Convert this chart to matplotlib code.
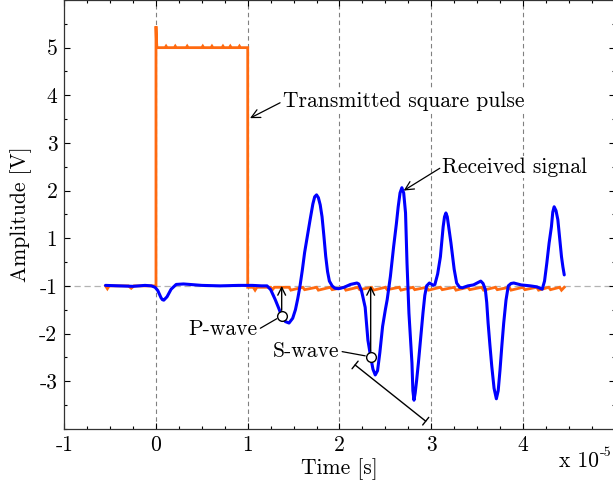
import matplotlib
matplotlib.use("Agg")
import matplotlib.pyplot as plt

plt.rcParams['font.family'] = 'serif'
plt.rcParams['font.serif'] = ['cmr10']
plt.rcParams['mathtext.fontset'] = 'cm'
plt.rcParams['axes.unicode_minus'] = False

# segnale trasmesso (impulso quadrato), x in unita di 1e-5 s
tx_x = [-0.55, -0.53, -0.51, -0.30, -0.27, -0.24, 0.0, 0.0, 0.004, 0.01,
        0.10, 0.11, 0.12, 0.20, 0.21, 0.22, 0.33, 0.34, 0.35, 0.50, 0.51, 0.52,
        0.60, 0.61, 0.62, 0.72, 0.73, 0.74, 0.80, 0.81, 0.82, 0.90, 0.91, 0.92, 0.99, 1.0,
        1.0, 1.06, 1.08, 1.10, 1.25, 1.27, 1.29, 1.45, 1.47, 1.60, 1.62, 1.75, 1.77,
        1.90, 1.92, 2.05, 2.07, 2.20, 2.22, 2.35, 2.37, 2.50, 2.52, 2.65, 2.67,
        2.80, 2.82, 2.95, 2.97, 3.10, 3.12, 3.25, 3.27, 3.40, 3.42, 3.55, 3.57,
        3.70, 3.72, 3.85, 3.87, 4.00, 4.02, 4.15, 4.17, 4.28, 4.30, 4.40, 4.42, 4.45]
tx_y = [0.0, -0.06, 0.0, 0.0, -0.05, 0.0, 0.0, 5.45, 5.2, 5.0,
        5.0, 5.03, 5.0, 5.0, 5.03, 5.0, 5.0, 5.03, 5.0, 5.0, 5.03, 5.0,
        5.0, 5.03, 5.0, 5.0, 5.03, 5.0, 5.0, 5.03, 5.0, 5.0, 5.03, 5.0, 5.0, 5.0,
        -0.03, -0.03, -0.09, -0.03, -0.03, -0.08, -0.03, -0.03, -0.09, -0.03, -0.08, -0.03, -0.09,
        -0.03, -0.08, -0.03, -0.09, -0.03, -0.08, -0.03, -0.09, -0.03, -0.08, -0.03, -0.09,
        -0.03, -0.08, -0.03, -0.09, -0.03, -0.08, -0.03, -0.09, -0.03, -0.08, -0.03, -0.09,
        -0.03, -0.08, -0.03, -0.09, -0.03, -0.08, -0.03, -0.09, -0.03, -0.08, -0.03, -0.09, -0.03]

# segnale ricevuto
rx_x = [-0.55, -0.40, -0.25, -0.12, -0.05, -0.01, 0.02, 0.055, 0.07, 0.085, 0.12, 0.165,
        0.22, 0.30, 0.50, 0.70, 0.90, 1.05, 1.15, 1.21, 1.25, 1.30, 1.34, 1.37,
        1.41, 1.45, 1.49, 1.52, 1.545, 1.57, 1.595, 1.62, 1.65, 1.68, 1.71, 1.73,
        1.75, 1.77, 1.79, 1.81, 1.83, 1.85, 1.87, 1.89, 1.92, 1.95, 1.99, 2.05,
        2.12, 2.19, 2.21, 2.24, 2.28, 2.31, 2.34, 2.365, 2.39, 2.415, 2.44, 2.47,
        2.50, 2.52, 2.555, 2.59, 2.62, 2.64, 2.66, 2.68, 2.70, 2.72, 2.736, 2.757,
        2.79, 2.80, 2.812, 2.825, 2.84, 2.86, 2.885, 2.91, 2.93, 2.95, 2.98, 3.00,
        3.02, 3.04, 3.07, 3.10, 3.13, 3.145, 3.16, 3.175, 3.19, 3.215, 3.233, 3.25,
        3.277, 3.31, 3.34, 3.40, 3.46, 3.51, 3.54, 3.565, 3.59, 3.605, 3.62, 3.64,
        3.66, 3.685, 3.71, 3.73, 3.75, 3.77, 3.79, 3.815, 3.84, 3.87, 3.90, 3.98,
        4.08, 4.15, 4.21, 4.235, 4.26, 4.285, 4.31, 4.325, 4.34, 4.36, 4.38, 4.40,
        4.42, 4.435, 4.45]
rx_y = [0.01, 0.0, -0.01, 0.01, 0.0, -0.03, -0.1, -0.25, -0.29, -0.30, -0.23, -0.07,
        0.03, 0.04, 0.01, 0.0, 0.01, 0.01, 0.0, 0.0, -0.08, -0.29, -0.48, -0.63,
        -0.75, -0.78, -0.68, -0.5, -0.27, 0.0, 0.33, 0.7, 1.05, 1.39, 1.72, 1.87,
        1.91, 1.85, 1.7, 1.45, 1.05, 0.62, 0.3, 0.1, 0.0, -0.05, -0.06, -0.03,
        0.03, 0.06, 0.04, -0.1, -0.45, -1.14, -1.49, -1.75, -1.87, -1.78, -1.4, -0.85,
        -0.5, -0.29, 0.2, 0.82, 1.3, 1.66, 1.95, 2.06, 1.95, 1.53, 0.48, -0.57,
        -1.62, -2.2, -2.40, -2.25, -2.0, -1.62, -1.1, -0.57, -0.2, 0.0, 0.06, 0.04,
        0.01, 0.03, 0.25, 0.61, 1.24, 1.45, 1.53, 1.45, 1.24, 0.9, 0.61, 0.35,
        0.06, -0.03, -0.04, 0.0, 0.02, 0.07, 0.1, 0.05, -0.08, -0.35, -0.78, -1.25,
        -1.69, -2.15, -2.37, -2.2, -1.76, -1.25, -0.78, -0.3, 0.0, 0.05, 0.06, 0.02,
        0.0, -0.02, -0.07, 0.1, 0.48, 0.9, 1.24, 1.55, 1.66, 1.58, 1.39, 1.0,
        0.61, 0.4, 0.23]

xticks = [-1, 0, 1, 2, 3, 4]
xticklabels = ['-1', '0', '1', '2', '3', '4']
yticks = [-2, -1, 0, 1, 2, 3, 4, 5]
yticklabels = ['-3', '-2', '-1', '1', '2', '3', '4', '5']

fig = plt.figure(figsize=(6.13, 4.86), dpi=100)
ax = fig.add_axes([0.1048, 0.1177, 0.898, 0.8823])

for xv in [0, 1, 2, 3, 4]:
    ax.axvline(xv, color='0.5', lw=0.8, ls=(0, (4, 3)), zorder=0)
ax.axhline(0, color='0.7', lw=0.9, ls=(0, (5, 3)), zorder=0)

ax.plot(tx_x, tx_y, color='#ff6a10', lw=2.0, zorder=2, solid_joinstyle='miter')
ax.plot(rx_x, rx_y, color='#0000ff', lw=2.2, zorder=3,
        solid_joinstyle='round', solid_capstyle='round')

ax.set_xlim(-1, 5)
ax.set_ylim(-3, 6)
ax.set_xticks(xticks)
ax.set_xticklabels(xticklabels)
ax.set_xticks([i * 0.25 for i in range(-4, 21)], minor=True)
ax.set_yticks(yticks)
ax.set_yticklabels(yticklabels)
ax.set_yticks([i * 0.5 for i in range(-6, 13)], minor=True)
ax.tick_params(which='both', direction='in', top=True, right=True, labelsize=15.5, width=0.8)
ax.tick_params(which='major', length=4, pad=5)
ax.tick_params(which='minor', length=2.5)
for s in ax.spines.values():
    s.set_linewidth(0.9)
    s.set_color('0.2')

ax.set_xlabel('Time [s]', fontsize=15.5, labelpad=2)
ax.set_ylabel('Amplitude [V]', fontsize=15.5, labelpad=5)
fig.text(0.977, 0.039, 'x 10', ha='right', va='baseline', fontsize=15.5)
fig.text(0.979, 0.062, '-5', ha='left', va='baseline', fontsize=10)

box = dict(facecolor='white', edgecolor='none', pad=1)
ax.annotate('Transmitted square pulse', xy=(1.025, 3.52), xytext=(1.38, 3.87),
            ha='left', va='center', fontsize=15.5, bbox=box,
            arrowprops=dict(arrowstyle='->', color='k', lw=0.9, shrinkA=1, shrinkB=0,
                            relpos=(0, 0.5)))
ax.annotate('Received signal', xy=(2.70, 2.0), xytext=(3.12, 2.50),
            ha='left', va='center', fontsize=15.5, bbox=box,
            arrowprops=dict(arrowstyle='->', color='k', lw=0.9, shrinkA=1, shrinkB=0,
                            relpos=(0, 0.5)))

# P-wave / S-wave
ax.annotate('', xy=(1.37, 0.0), xytext=(1.37, -0.63),
            arrowprops=dict(arrowstyle='->', color='k', lw=1.0, shrinkA=4, shrinkB=0,
                            mutation_scale=14))
ax.annotate('', xy=(2.34, 0.0), xytext=(2.34, -1.49),
            arrowprops=dict(arrowstyle='->', color='k', lw=1.0, shrinkA=4, shrinkB=0,
                            mutation_scale=14))
ax.annotate('P-wave', xy=(1.37, -0.63), xytext=(1.11, -0.92),
            ha='right', va='center', fontsize=15.5, bbox=box,
            arrowprops=dict(arrowstyle='-', color='k', lw=0.9, shrinkA=1, shrinkB=4,
                            relpos=(1, 0.5)))
ax.annotate('S-wave', xy=(2.34, -1.49), xytext=(2.0, -1.37),
            ha='right', va='center', fontsize=15.5, bbox=box,
            arrowprops=dict(arrowstyle='-', color='k', lw=0.9, shrinkA=1, shrinkB=4,
                            relpos=(1, 0.5)))
ax.plot([1.37, 2.34], [-0.63, -1.49], 'o', mfc='white', mec='k', ms=7, mew=1, zorder=6)

ax.annotate('', xy=(2.94, -2.84), xytext=(2.17, -1.66),
            arrowprops=dict(arrowstyle='|-|, widthA=0.35, widthB=0.35', color='k', lw=1.0,
                            shrinkA=0, shrinkB=0))

fig.savefig('out.png', dpi=100)
